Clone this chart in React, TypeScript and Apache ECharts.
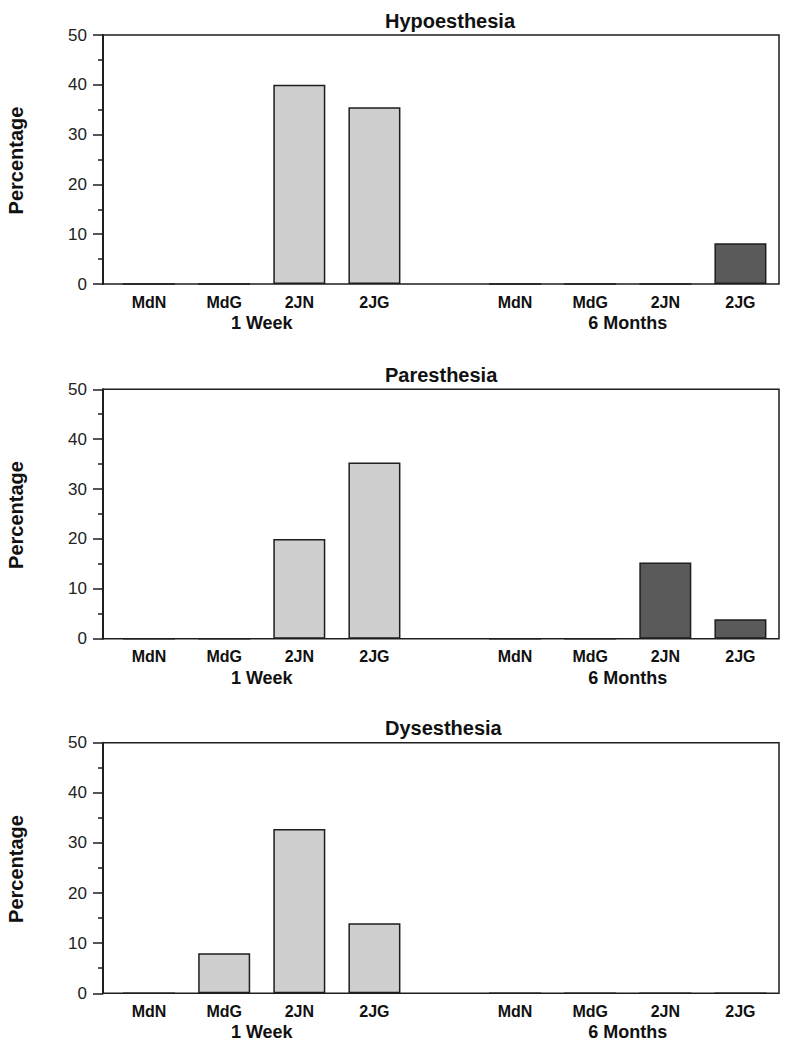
import React, { useEffect, useRef } from "react";
import * as echarts from "echarts";

const panelTitles = ["Hypoesthesia", "Paresthesia", "Dysesthesia"];
const groups = ["1 Week", "6 Months"];
const categories = ["MdN", "MdG", "2JN", "2JG"];
const yTicks = [0, 10, 20, 30, 40, 50];

// values per panel: [1 Week, 6 Months]
const hypoWeek = [0, 0, 40, 35.5];
const hypoMonths = [0, 0, 0, 8.2];
const paresWeek = [0, 0, 20, 35.3];
const paresMonths = [0, 0, 15.3, 3.9];
const dysesWeek = [0, 8, 32.8, 14];
const dysesMonths = [0, 0, 0, 0];

const panelData = [
  [hypoWeek, hypoMonths],
  [paresWeek, paresMonths],
  [dysesWeek, dysesMonths],
];

const FONT = "'Liberation Sans', Arial, Helvetica, sans-serif";
const LIGHT = "#cfcfcf";
const DARK = "#5a5a5a";
const INK = "#1e1e1e";

const panelTops = [35, 389.3, 742.7];
const panelHeights = [249, 249.4, 250.6];
const frameLeft = 103;
const frameRight = 779;
const groupLefts = [111.5, 477.5];
const groupWidth = 300.5;

export default function App() {
  const ref = useRef<HTMLDivElement>(null);

  useEffect(() => {
    if (!ref.current) return;
    const chart = echarts.init(ref.current, undefined, { renderer: "svg" });

    const grid: any[] = [];
    const xAxis: any[] = [];
    const yAxis: any[] = [];
    const series: any[] = [];
    const graphic: any[] = [];

    panelTitles.forEach((title, p) => {
      const top = panelTops[p];
      const height = panelHeights[p];
      const base = grid.length;

      // frame grid (box + y axis)
      grid.push({
        left: frameLeft,
        width: frameRight - frameLeft,
        top,
        height,
        show: true,
        borderColor: INK,
        borderWidth: 1.5,
        backgroundColor: "transparent",
      });
      xAxis.push({
        gridIndex: base,
        type: "value",
        min: 0,
        max: 1,
        show: false,
      });
      yAxis.push({
        gridIndex: base,
        type: "value",
        min: yTicks[0],
        max: yTicks[yTicks.length - 1],
        interval: yTicks[1] - yTicks[0],
        axisLine: { show: true, lineStyle: { color: INK, width: 2 } },
        axisTick: { show: true, length: 10, lineStyle: { color: INK, width: 1.5 } },
        minorTick: { show: true, splitNumber: 2, length: 5, lineStyle: { color: INK, width: 1.5 } },
        splitLine: { show: false },
        axisLabel: {
          margin: 16,
          fontSize: 17,
          color: "#222",
          fontFamily: FONT,
        },
      });

      groups.forEach((g, gi) => {
        const idx = base + 1 + gi;
        grid.push({
          left: groupLefts[gi],
          width: groupWidth,
          top,
          height,
        });
        xAxis.push({
          gridIndex: idx,
          type: "category",
          data: categories,
          axisLine: { show: false },
          axisTick: { show: false },
          axisLabel: {
            margin: 10,
            fontSize: 16,
            fontWeight: "bold",
            color: "#111",
            fontFamily: FONT,
            interval: 0,
          },
          name: g,
          nameLocation: "middle",
          nameGap: 30,
          nameTextStyle: {
            fontSize: 18,
            fontWeight: "bold",
            color: "#111",
            fontFamily: FONT,
          },
        });
        yAxis.push({
          gridIndex: idx,
          type: "value",
          min: yTicks[0],
          max: yTicks[yTicks.length - 1],
          show: false,
        });
        series.push({
          type: "bar",
          xAxisIndex: idx,
          yAxisIndex: idx,
          data: panelData[p][gi],
          barWidth: 52,
          itemStyle: {
            color: gi === 0 ? LIGHT : DARK,
            borderColor: INK,
            borderWidth: 1.5,
          },
        });
      });

      graphic.push({
        type: "text",
        x: 385,
        y: top - 14.5,
        style: {
          text: title,
          fontSize: 20,
          fontWeight: "bold",
          fontFamily: FONT,
          fill: "#111",
          textAlign: "left",
          textVerticalAlign: "middle",
        },
      });
      graphic.push({
        type: "text",
        x: 16,
        y: top + height / 2 + 1,
        rotation: Math.PI / 2,
        style: {
          text: "Percentage",
          fontSize: 20,
          fontWeight: "bold",
          fontFamily: FONT,
          fill: "#111",
          textAlign: "center",
          textVerticalAlign: "middle",
        },
      });
    });

    chart.setOption({
      animation: false,
      backgroundColor: "#ffffff",
      grid,
      xAxis,
      yAxis,
      series,
      graphic,
    });

    return () => chart.dispose();
  }, []);

  return (
    <div
      ref={ref}
      style={{ position: "absolute", left: 0, top: 0, width: 798, height: 1050 }}
    />
  );
}
